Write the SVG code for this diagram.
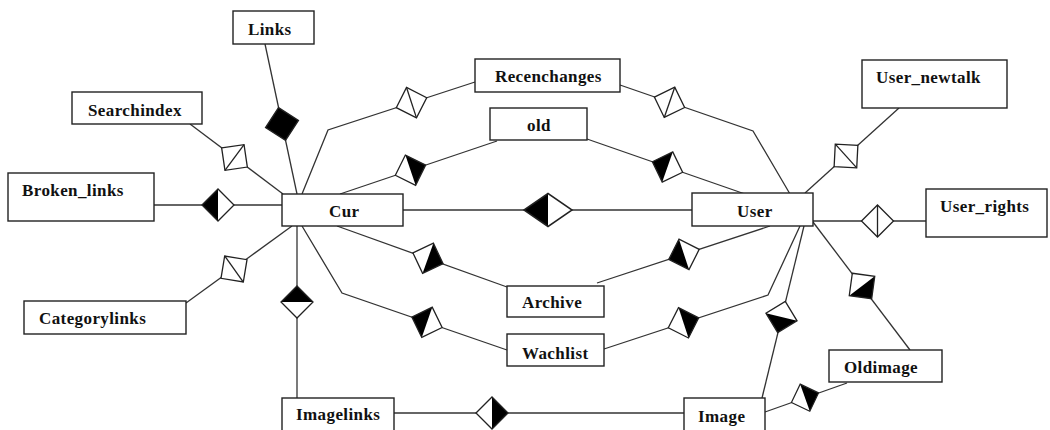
<svg xmlns="http://www.w3.org/2000/svg" xmlns:xlink="http://www.w3.org/1999/xlink" width="1050" height="430" viewBox="0 0 1050 430">
  <style>
    .box { fill: #fff; stroke: #222; stroke-width: 1.4; }
    .lbl { font-family: "Liberation Serif", "Times New Roman", serif; font-weight: bold; font-size: 17px; letter-spacing: 0.4px; fill: #111; }
    .conn { fill: none; stroke: #333; stroke-width: 1.3; }
    .rim { fill: none; stroke: #222; stroke-width: 1.3; stroke-linejoin: miter; }
    .blk { fill: #000; }
    .wht { fill: #fff; }
  </style>
  <defs>
    <!-- relationship diamonds: +x points from the first entity to the second -->
    <g id="d-ww">
      <polygon class="wht" points="-16,0 0,-16 16,0 0,16"/>
      <line class="rim" x1="0" y1="-16" x2="0" y2="16"/>
      <polygon class="rim" points="-16,0 0,-16 16,0 0,16"/>
    </g>
    <g id="d-bw">
      <polygon class="wht" points="-16,0 0,-16 16,0 0,16"/>
      <polygon class="blk" points="-16,0 0,-16 0,16"/>
      <polygon class="rim" points="-16,0 0,-16 16,0 0,16"/>
    </g>
    <g id="d-wb">
      <polygon class="wht" points="-16,0 0,-16 16,0 0,16"/>
      <polygon class="blk" points="16,0 0,-16 0,16"/>
      <polygon class="rim" points="-16,0 0,-16 16,0 0,16"/>
    </g>
    <g id="d-bb">
      <polygon class="blk" points="-16,0 0,-16 16,0 0,16"/>
      <polygon class="rim" points="-16,0 0,-16 16,0 0,16"/>
    </g>
  </defs>

  <rect width="1050" height="430" fill="#fff"/>

  <g id="connectors">
    <polyline class="conn" points="265,44 297,194"/>
    <polyline class="conn" points="190,124 283,194"/>
    <polyline class="conn" points="154,205 282,205"/>
    <polyline class="conn" points="186,303 292,226"/>
    <polyline class="conn" points="297,226 297,398"/>
    <polyline class="conn" points="302,194 328,130 475,82"/>
    <polyline class="conn" points="340,194 497,141"/>
    <polyline class="conn" points="620,85 753,131 790,194"/>
    <polyline class="conn" points="587,139 745,194"/>
    <polyline class="conn" points="403,210 692,210"/>
    <polyline class="conn" points="337,226 507,287"/>
    <polyline class="conn" points="302,226 342,293 507,350"/>
    <polyline class="conn" points="597,283 770,226"/>
    <polyline class="conn" points="604,349 768,295 800,226"/>
    <polyline class="conn" points="762,398 804,226"/>
    <polyline class="conn" points="805,193 899,108"/>
    <polyline class="conn" points="813,221 926,221"/>
    <polyline class="conn" points="813,222 910,350"/>
    <polyline class="conn" points="765,412 847,383"/>
    <polyline class="conn" points="394,413 684,413"/>

    <!-- relationship diamonds -->
    <use xlink:href="#d-bb" transform="translate(282,124) rotate(77.9) scale(1.05)"/>
    <use xlink:href="#d-ww" transform="translate(234.5,157.5) rotate(36.6)"/>
    <use xlink:href="#d-bw" transform="translate(218,205)"/>
    <use xlink:href="#d-ww" transform="translate(234,269) rotate(-35.6)"/>
    <use xlink:href="#d-bw" transform="translate(297,302) rotate(90)"/>
    <use xlink:href="#d-ww" transform="translate(411.5,102.7) rotate(-18.1)"/>
    <use xlink:href="#d-wb" transform="translate(410.5,170.2) rotate(-18.7)"/>
    <use xlink:href="#d-ww" transform="translate(669.5,102.3) rotate(19.1)"/>
    <use xlink:href="#d-bw" transform="translate(667.5,167) rotate(19.2)"/>
    <use xlink:href="#d-bw" transform="translate(548,210) scale(1.5,1.03)"/>
    <use xlink:href="#d-wb" transform="translate(428,258.3) rotate(19.7)"/>
    <use xlink:href="#d-bw" transform="translate(427,322.3) rotate(19.1)"/>
    <use xlink:href="#d-bw" transform="translate(684,254.4) rotate(-18.2)"/>
    <use xlink:href="#d-wb" transform="translate(683.5,322.8) rotate(-18.2)"/>
    <use xlink:href="#d-bw" transform="translate(781.5,317) rotate(-76.3)"/>
    <use xlink:href="#d-ww" transform="translate(846,156) rotate(-42.1)"/>
    <use xlink:href="#d-ww" transform="translate(877.5,221)"/>
    <use xlink:href="#d-wb" transform="translate(862,286) rotate(52.8)"/>
    <use xlink:href="#d-wb" transform="translate(805,397.7) rotate(-19.5) scale(0.9)"/>
    <use xlink:href="#d-wb" transform="translate(492,413)"/>
  </g>

  <g id="links"><rect class="box" x="233" y="11" width="81" height="33"/><text class="lbl" x="248" y="35">Links</text></g>
  <g id="searchindex"><rect class="box" x="72" y="92" width="130" height="32"/><text class="lbl" x="88" y="116">Searchindex</text></g>
  <g id="broken_links"><rect class="box" x="8" y="173" width="146" height="48"/><text class="lbl" x="22" y="196">Broken_links</text></g>
  <g id="cur"><rect class="box" x="282" y="194" width="121" height="32"/><text class="lbl" x="329" y="217">Cur</text></g>
  <g id="categorylinks"><rect class="box" x="24" y="301" width="162" height="33"/><text class="lbl" x="39" y="324">Categorylinks</text></g>
  <g id="recenchanges"><rect class="box" x="475" y="59" width="145" height="33"/><text class="lbl" x="495" y="82">Recenchanges</text></g>
  <g id="old"><rect class="box" x="490" y="108" width="97" height="32"/><text class="lbl" x="527" y="131">old</text></g>
  <g id="user"><rect class="box" x="692" y="193" width="121" height="33"/><text class="lbl" x="737" y="217">User</text></g>
  <g id="user_newtalk"><rect class="box" x="862" y="60" width="145" height="48"/><text class="lbl" x="876" y="83">User_newtalk</text></g>
  <g id="user_rights"><rect class="box" x="926" y="189" width="121" height="48"/><text class="lbl" x="940" y="212">User_rights</text></g>
  <g id="archive"><rect class="box" x="507" y="286" width="97" height="31"/><text class="lbl" x="522" y="308">Archive</text></g>
  <g id="wachlist"><rect class="box" x="507" y="334" width="97" height="32"/><text class="lbl" x="522" y="359">Wachlist</text></g>
  <g id="oldimage"><rect class="box" x="829" y="350" width="113" height="32"/><text class="lbl" x="844" y="373">Oldimage</text></g>
  <g id="image"><rect class="box" x="684" y="398" width="81" height="34"/><text class="lbl" x="698" y="422">Image</text></g>
  <g id="imagelinks"><rect class="box" x="282" y="398" width="112" height="34"/><text class="lbl" x="296" y="420">Imagelinks</text></g>
</svg>
